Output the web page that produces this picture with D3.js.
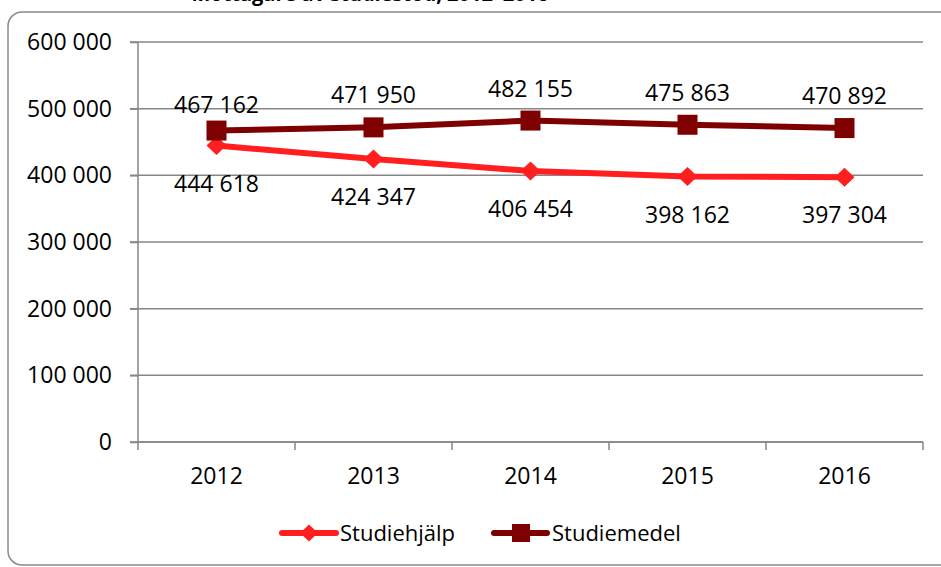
<!DOCTYPE html>
<html><head><meta charset="utf-8">
<script src="https://cdn.jsdelivr.net/npm/d3@7"></script>
<style>html,body{margin:0;padding:0;background:#fff;overflow:hidden}</style>
</head><body>
<svg id="c" width="941" height="567"></svg>
<script>
const title = "Mottagare av studiestöd, 2012–2016";
const years = ["2012", "2013", "2014", "2015", "2016"];
const studiehjalp = [444618, 424347, 406454, 398162, 397304];
const studiemedel = [467162, 471950, 482155, 475863, 470892];
const seriesNames = ["Studiehjälp", "Studiemedel"];
const yTicks = [0, 100000, 200000, 300000, 400000, 500000, 600000];

(function () {
const FONT = "'Open Sans', sans-serif";
const GRID = "#868686";
const C1 = "#FF1F1F", C2 = "#7F0000";
const svg = d3.select("#c");
const fmt = v => d3.format(",")(v).replace(/,/g, " ");

// border
svg.append("rect").attr("x", 8).attr("y", 12).attr("width", 960).attr("height", 553)
  .attr("rx", 14).attr("fill", "#fff").attr("stroke", "#8a8a8a").attr("stroke-width", 1.5);

// cut-off title (as in the reference)
svg.append("text").attr("x", 370).attr("y", 1).attr("text-anchor", "middle")
  .attr("font-family", FONT).attr("font-weight", "bold").attr("font-size", 20).attr("fill", "#000")
  .text(title);

const mL = 138, mR = 923, mT = 42, mB = 442;
const x = d3.scaleBand().domain(years).range([mL, mR]);
const y = d3.scaleLinear().domain([0, 600000]).range([mB, mT]);

// gridlines
svg.append("g").selectAll("line").data(yTicks).join("line")
  .attr("x1", mL - 8).attr("x2", mR).attr("y1", d => y(d)).attr("y2", d => y(d))
  .attr("stroke", GRID).attr("stroke-width", 1.5);

// y axis
const yAxis = svg.append("g").attr("transform", `translate(${mL},0)`)
  .call(d3.axisLeft(y).tickValues(yTicks).tickFormat(fmt).tickSize(8).tickPadding(18));
yAxis.select(".domain").attr("stroke", GRID).attr("stroke-width", 1.5).attr("d", `M0,${mT}V${mB}`);
yAxis.selectAll(".tick line").attr("stroke", GRID).attr("stroke-width", 1.5);
yAxis.selectAll("text").attr("font-family", FONT).attr("font-size", 23).attr("fill", "#000");

// x axis
const xAxis = svg.append("g").attr("transform", `translate(0,${mB})`)
  .call(d3.axisBottom(x).tickSize(0).tickPadding(26));
xAxis.select(".domain").remove();
xAxis.selectAll("text").attr("font-family", FONT).attr("font-size", 23).attr("fill", "#000");
const bounds = years.map(d => x(d)).concat([mR]);
svg.append("g").selectAll("line").data(bounds).join("line")
  .attr("x1", d => d).attr("x2", d => d).attr("y1", mB).attr("y2", mB + 8)
  .attr("stroke", GRID).attr("stroke-width", 1.5);
svg.append("line").attr("x1", mL).attr("x2", mR).attr("y1", mB).attr("y2", mB)
  .attr("stroke", GRID).attr("stroke-width", 1.5);

const cx = d => x(d) + x.bandwidth() / 2;
const line = d3.line().x(d => cx(d.year)).y(d => y(d.v));
const s1 = years.map((yr, i) => ({ year: yr, v: studiehjalp[i] }));
const s2 = years.map((yr, i) => ({ year: yr, v: studiemedel[i] }));

// series 1
svg.append("path").datum(s1).attr("d", line).attr("fill", "none").attr("stroke", C1)
  .attr("stroke-width", 6).attr("stroke-linejoin", "round");
const diamond = (w, h) => `M0,${-h/2}L${w/2},0L0,${h/2}L${-w/2},0Z`;
svg.append("g").selectAll("path").data(s1).join("path")
  .attr("transform", d => `translate(${cx(d.year)},${y(d.v)})`)
  .attr("d", diamond(20, 19)).attr("fill", C1);

// series 2
svg.append("path").datum(s2).attr("d", line).attr("fill", "none").attr("stroke", C2)
  .attr("stroke-width", 6).attr("stroke-linejoin", "round");
svg.append("g").selectAll("rect").data(s2).join("rect")
  .attr("x", d => cx(d.year) - 10).attr("y", d => y(d.v) - 10)
  .attr("width", 20).attr("height", 20).attr("fill", C2);

// labels
svg.append("g").selectAll("text").data(s1).join("text")
  .attr("x", d => cx(d.year)).attr("y", d => y(d.v) + 38).attr("dy", "0.35em")
  .attr("text-anchor", "middle").attr("font-family", FONT).attr("font-size", 23).attr("fill", "#000")
  .text(d => fmt(d.v));
svg.append("g").selectAll("text").data(s2).join("text")
  .attr("x", d => cx(d.year)).attr("y", (d, i) => y(d.v) - (i === 0 ? 26 : 32)).attr("dy", "0.35em")
  .attr("text-anchor", "middle").attr("font-family", FONT).attr("font-size", 23).attr("fill", "#000")
  .text(d => fmt(d.v));

// legend
const lg = svg.append("g");
const ly = 533;
lg.append("line").attr("x1", 282).attr("x2", 336).attr("y1", ly).attr("y2", ly)
  .attr("stroke", C1).attr("stroke-width", 6).attr("stroke-linecap", "round");
lg.append("path").attr("transform", `translate(309,${ly})`).attr("d", diamond(18, 17)).attr("fill", C1);
lg.append("text").attr("x", 340).attr("y", ly).attr("dy", "0.35em").attr("font-family", FONT)
  .attr("font-size", 22).attr("fill", "#000").text(seriesNames[0]);
lg.append("line").attr("x1", 494).attr("x2", 547).attr("y1", ly).attr("y2", ly)
  .attr("stroke", C2).attr("stroke-width", 6).attr("stroke-linecap", "round");
lg.append("rect").attr("x", 512).attr("y", ly - 9).attr("width", 18).attr("height", 18).attr("fill", C2);
lg.append("text").attr("x", 552).attr("y", ly).attr("dy", "0.35em").attr("font-family", FONT)
  .attr("font-size", 22).attr("fill", "#000").text(seriesNames[1]);
})();
</script>
</body></html>
